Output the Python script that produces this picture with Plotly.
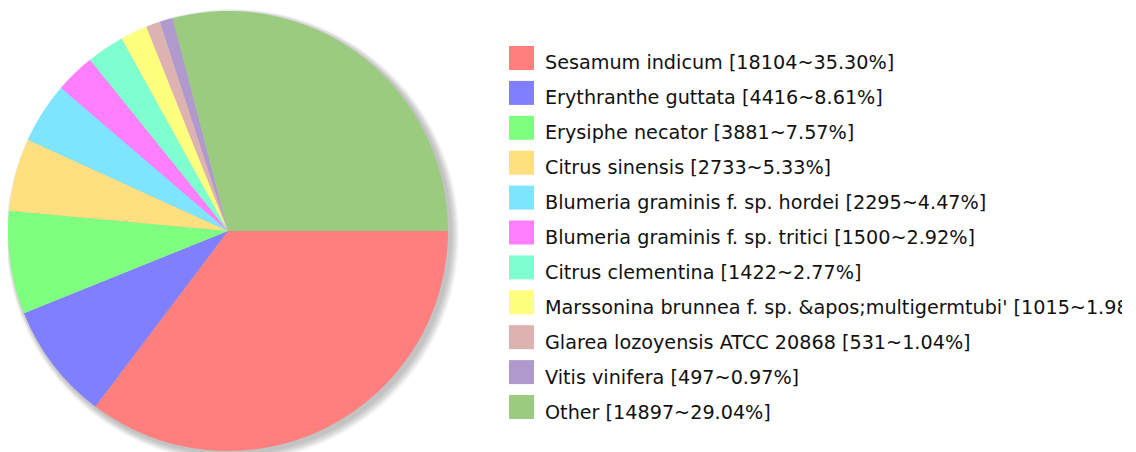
import plotly.graph_objects as go

OFF = 8               # browser body margin
W, H = 1114, 444      # figure size (right edge clips text like the reference)

species = [
    "Sesamum indicum",
    "Erythranthe guttata",
    "Erysiphe necator",
    "Citrus sinensis",
    "Blumeria graminis f. sp. hordei",
    "Blumeria graminis f. sp. tritici",
    "Citrus clementina",
    "Marssonina brunnea f. sp. &apos;multigermtubi'",
    "Glarea lozoyensis ATCC 20868",
    "Vitis vinifera",
    "Other",
]
counts = [18104, 4416, 3881, 2733, 2295, 1500, 1422, 1015, 531, 497, 14897]
percents = ["35.30%", "8.61%", "7.57%", "5.33%", "4.47%", "2.92%", "2.77%",
            "1.98%", "1.04%", "0.97%", "29.04%"]
colors = ["#FF7F7F", "#7F7FFF", "#7FFF7F", "#FFDF7F", "#7FE5FF", "#FF7FFF",
          "#7FFFCF", "#FFFF7F", "#DFB2B2", "#B09ACD", "#9BCB7F"]

legend_labels = [f"{s} [{c}~{p}]" for s, c, p in zip(species, counts, percents)]

# pie geometry (screen pixels)
cx, cy, r = 228, 231, 220

def px(x):
    return (x - OFF) / W

def py(y):
    return 1 - (y - OFF) / H

fig = go.Figure()
fig.add_trace(go.Pie(
    labels=legend_labels,
    values=counts,
    marker=dict(colors=colors, line=dict(width=0)),
    sort=False,
    direction="clockwise",
    rotation=90,
    textinfo="none",
    showlegend=False,
    domain=dict(x=[px(cx - r), px(cx + r)], y=[py(cy + r), py(cy - r)]),
))

shapes = []
# soft drop shadow
for k in range(8, 0, -1):
    shapes.append(dict(
        type="circle", xref="paper", yref="paper", layer="below",
        x0=px(cx - r + 2 - k * 0.5), x1=px(cx + r + 3 + k),
        y0=py(cy + r + 3 + k), y1=py(cy - r + 2 - k * 0.5),
        fillcolor="rgba(0,0,0,0.03)", line=dict(width=0),
    ))

annotations = []
sq_x0, sq_size, top0, step = 509, 25, 46, 34.9
for i, (lab, col) in enumerate(zip(legend_labels, colors)):
    t = top0 + i * step
    shapes.append(dict(
        type="rect", xref="paper", yref="paper",
        x0=px(sq_x0), x1=px(sq_x0 + sq_size), y0=py(t + sq_size - 1), y1=py(t),
        fillcolor=col, line=dict(width=0),
    ))
    annotations.append(dict(
        text=lab, xref="paper", yref="paper", x=px(543), y=py(t + 17),
        xanchor="left", yanchor="middle", showarrow=False,
        font=dict(family="DejaVu Sans", size=19.2, color="#111111"),
    ))

fig.update_layout(
    width=W, height=H,
    margin=dict(l=0, r=0, t=0, b=0),
    paper_bgcolor="white", plot_bgcolor="white",
    shapes=shapes, annotations=annotations,
)

fig.write_html("out.html")
